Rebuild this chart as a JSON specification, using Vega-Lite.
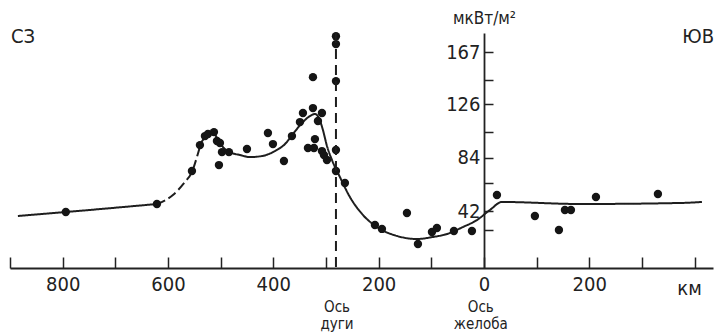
{
  "$schema": "https://vega.github.io/schema/vega-lite/v6.json",
  "width": 703,
  "height": 235,
  "autosize": {"type": "none"},
  "padding": {"left": 10, "top": 33, "right": 3, "bottom": 66},
  "background": "white",
  "config": {
    "view": {"stroke": null},
    "font": "Liberation Sans Narrow, DejaVu Sans Condensed, Liberation Sans",
    "axis": {"grid": false}
  },
  "resolve": {"scale": {"y": "shared", "x": "shared"}, "axis": {"y": "independent"}},
  "datasets": {
    "curve": [
      {"km": -885, "v": 38.2, "seg": "s1", "style": "solid"},
      {"km": -794, "v": 41.3, "seg": "s1", "style": "solid"},
      {"km": -621, "v": 47.6, "seg": "s1", "style": "solid"},
      {"km": -621, "v": 47.6, "seg": "s2", "style": "dash"},
      {"km": -590.6, "v": 54.7, "seg": "s2", "style": "dash"},
      {"km": -567.8, "v": 64.9, "seg": "s2", "style": "dash"},
      {"km": -554.5, "v": 72.7, "seg": "s2", "style": "dash"},
      {"km": -545, "v": 84.5, "seg": "s2", "style": "dash"},
      {"km": -537.4, "v": 95.5, "seg": "s2", "style": "dash"},
      {"km": -537.4, "v": 95.5, "seg": "s3", "style": "solid"},
      {"km": -526, "v": 101.8, "seg": "s3", "style": "solid"},
      {"km": -514.6, "v": 103.4, "seg": "s3", "style": "solid"},
      {"km": -505.1, "v": 98.6, "seg": "s3", "style": "solid"},
      {"km": -495.6, "v": 92.4, "seg": "s3", "style": "solid"},
      {"km": -482.3, "v": 88.4, "seg": "s3", "style": "solid"},
      {"km": -463.4, "v": 86.1, "seg": "s3", "style": "solid"},
      {"km": -444.4, "v": 84.5, "seg": "s3", "style": "solid"},
      {"km": -421.6, "v": 85.3, "seg": "s3", "style": "solid"},
      {"km": -396.9, "v": 89.2, "seg": "s3", "style": "solid"},
      {"km": -377.9, "v": 94.7, "seg": "s3", "style": "solid"},
      {"km": -362.7, "v": 102.6, "seg": "s3", "style": "solid"},
      {"km": -345.6, "v": 111.2, "seg": "s3", "style": "solid"},
      {"km": -330.4, "v": 116.7, "seg": "s3", "style": "solid"},
      {"km": -320.9, "v": 118.3, "seg": "s3", "style": "solid"},
      {"km": -313.3, "v": 115.1, "seg": "s3", "style": "solid"},
      {"km": -305.7, "v": 105.7, "seg": "s3", "style": "solid"},
      {"km": -298.1, "v": 93.2, "seg": "s3", "style": "solid"},
      {"km": -288.6, "v": 82.2, "seg": "s3", "style": "solid"},
      {"km": -273.5, "v": 68.8, "seg": "s3", "style": "solid"},
      {"km": -254.5, "v": 53.1, "seg": "s3", "style": "solid"},
      {"km": -229.8, "v": 39.0, "seg": "s3", "style": "solid"},
      {"km": -203.2, "v": 29.5, "seg": "s3", "style": "solid"},
      {"km": -165.2, "v": 22.5, "seg": "s3", "style": "solid"},
      {"km": -127.2, "v": 20.1, "seg": "s3", "style": "solid"},
      {"km": -96.8, "v": 21.7, "seg": "s3", "style": "solid"},
      {"km": -70.3, "v": 24.0, "seg": "s3", "style": "solid"},
      {"km": -39.9, "v": 29.5, "seg": "s3", "style": "solid"},
      {"km": -13.3, "v": 35.0, "seg": "s3", "style": "solid"},
      {"km": 11.4, "v": 42.9, "seg": "s3", "style": "solid"},
      {"km": 34.2, "v": 49.2, "seg": "s3", "style": "solid"},
      {"km": 182.3, "v": 47.6, "seg": "s3", "style": "solid"},
      {"km": 372.2, "v": 48.4, "seg": "s3", "style": "solid"},
      {"km": 414, "v": 49.2, "seg": "s3", "style": "solid"}
    ],
    "points": [
      {"km": -794, "v": 41.3}, {"km": -621, "v": 47.6}, {"km": -554.5, "v": 73.5},
      {"km": -539.3, "v": 93.9}, {"km": -529.8, "v": 101.0}, {"km": -524.1, "v": 102.6},
      {"km": -512.7, "v": 104.1}, {"km": -507, "v": 97.1}, {"km": -501.3, "v": 95.5},
      {"km": -497.5, "v": 88.4}, {"km": -484.2, "v": 88.4}, {"km": -503.2, "v": 78.2},
      {"km": -450, "v": 90.8}, {"km": -410.2, "v": 103.4}, {"km": -400.7, "v": 94.7},
      {"km": -379.8, "v": 81.4}, {"km": -364.6, "v": 101.0}, {"km": -343.7, "v": 119.1},
      {"km": -324.7, "v": 123.0}, {"km": -307.6, "v": 119.1}, {"km": -315.2, "v": 112.8},
      {"km": -349.4, "v": 112.0}, {"km": -324.7, "v": 147.3}, {"km": -320.9, "v": 98.6},
      {"km": -334.2, "v": 91.6}, {"km": -322.8, "v": 91.6}, {"km": -307.6, "v": 89.2},
      {"km": -303.8, "v": 86.1}, {"km": -298.1, "v": 82.2}, {"km": -281, "v": 90.0},
      {"km": -281, "v": 73.5}, {"km": -264, "v": 64.1}, {"km": -281, "v": 179.5},
      {"km": -281, "v": 173.3}, {"km": -281, "v": 144.2}, {"km": -207, "v": 31.1},
      {"km": -193.7, "v": 28.0}, {"km": -146.2, "v": 40.5}, {"km": -125.3, "v": 16.2},
      {"km": -98.7, "v": 25.6}, {"km": -89.3, "v": 28.7}, {"km": -57, "v": 26.4},
      {"km": -22.8, "v": 26.4}, {"km": 24.7, "v": 54.7}, {"km": 96.8, "v": 38.2},
      {"km": 142.4, "v": 27.2}, {"km": 153.8, "v": 42.9}, {"km": 165.2, "v": 42.9},
      {"km": 212.7, "v": 53.1}, {"km": 330.4, "v": 55.5}
    ],
    "arc": [{"km": -281}],
    "labelL": [{"km": -898, "v": 178.8, "t": "СЗ"}],
    "labelR": [{"km": 437, "v": 178.8, "t": "ЮВ"}],
    "notes": [
      {"km": -279, "v": -33.5, "t": "Ось"},
      {"km": -279, "v": -46.5, "t": "дуги"},
      {"km": -6, "v": -33.5, "t": "Ось"},
      {"km": -6, "v": -46.5, "t": "желоба"}
    ]
  },
  "layer": [
    {
      "data": {"name": "curve"},
      "mark": {"type": "line", "interpolate": "monotone", "strokeWidth": 2, "color": "#1e1e1e"},
      "encoding": {
        "x": {
          "field": "km", "type": "quantitative",
          "scale": {"domain": [-900, 435], "nice": false, "zero": false},
          "axis": {
            "values": [-900, -800, -700, -600, -500, -400, -300, -200, -100, 0, 100, 200, 300, 400],
            "labelExpr": "(datum.value == -800 || datum.value == -600 || datum.value == -400 || datum.value == -200 || datum.value == 0 || datum.value == 200) ? format(abs(datum.value), 'd') : ''",
            "tickSize": -11, "tickWidth": 1.5, "tickColor": "#222",
            "domainColor": "#222", "domainWidth": 2,
            "labelPadding": 17, "labelFontSize": 20, "labelColor": "#222",
            "labelFlush": false, "labelOverlap": false,
            "title": "км", "titleX": 679, "titleY": 20, "titleFontSize": 20,
            "titleFontWeight": "normal", "titleAlign": "center", "titleBaseline": "middle", "titleColor": "#222"
          }
        },
        "y": {
          "field": "v", "type": "quantitative",
          "scale": {"domain": [-2.7, 182], "nice": false, "zero": false},
          "axis": {
            "orient": "left",
            "values": [42, 84, 126, 167],
            "format": "d",
            "offset": -474,
            "ticks": false,
            "domainColor": "#222", "domainWidth": 1.8,
            "labelPadding": 4, "labelFontSize": 20, "labelColor": "#222",
            "labelFlush": false, "labelOverlap": false, "labelBound": false,
            "title": "мкВт/м²", "titleAngle": 0, "titleX": 0, "titleY": -15,
            "titleAlign": "center", "titleBaseline": "middle", "titleFontSize": 17,
            "titleFontWeight": "normal", "titleColor": "#222"
          }
        },
        "detail": {"field": "seg"},
        "strokeDash": {
          "field": "style", "type": "nominal",
          "scale": {"domain": ["solid", "dash"], "range": [[1, 0], [9, 4]]},
          "legend": null
        }
      }
    },
    {
      "data": {"name": "points"},
      "mark": {"type": "circle", "size": 70, "opacity": 1, "color": "#151515"},
      "encoding": {
        "x": {"field": "km", "type": "quantitative"},
        "y": {
          "field": "v", "type": "quantitative",
          "axis": {
            "orient": "right",
            "values": [27, 42, 64, 84, 104, 126, 145, 167],
            "offset": -229,
            "labels": false,
            "domain": false,
            "tickSize": 9, "tickWidth": 1.5, "tickColor": "#222",
            "title": null
          }
        }
      }
    },
    {
      "data": {"name": "arc"},
      "mark": {"type": "rule", "strokeDash": [10, 6], "strokeWidth": 2, "color": "#1e1e1e"},
      "encoding": {"x": {"field": "km", "type": "quantitative"}}
    },
    {
      "data": {"name": "labelL"},
      "mark": {"type": "text", "fontSize": 20, "color": "#222", "baseline": "middle", "align": "left"},
      "encoding": {
        "x": {"field": "km", "type": "quantitative"},
        "y": {"field": "v", "type": "quantitative", "axis": null},
        "text": {"field": "t"}
      }
    },
    {
      "data": {"name": "labelR"},
      "mark": {"type": "text", "fontSize": 20, "color": "#222", "baseline": "middle", "align": "right"},
      "encoding": {
        "x": {"field": "km", "type": "quantitative"},
        "y": {"field": "v", "type": "quantitative", "axis": null},
        "text": {"field": "t"}
      }
    },
    {
      "data": {"name": "notes"},
      "mark": {"type": "text", "fontSize": 15, "color": "#222", "align": "center", "baseline": "middle"},
      "encoding": {
        "x": {"field": "km", "type": "quantitative"},
        "y": {"field": "v", "type": "quantitative", "axis": null},
        "text": {"field": "t"}
      }
    }
  ]
}
